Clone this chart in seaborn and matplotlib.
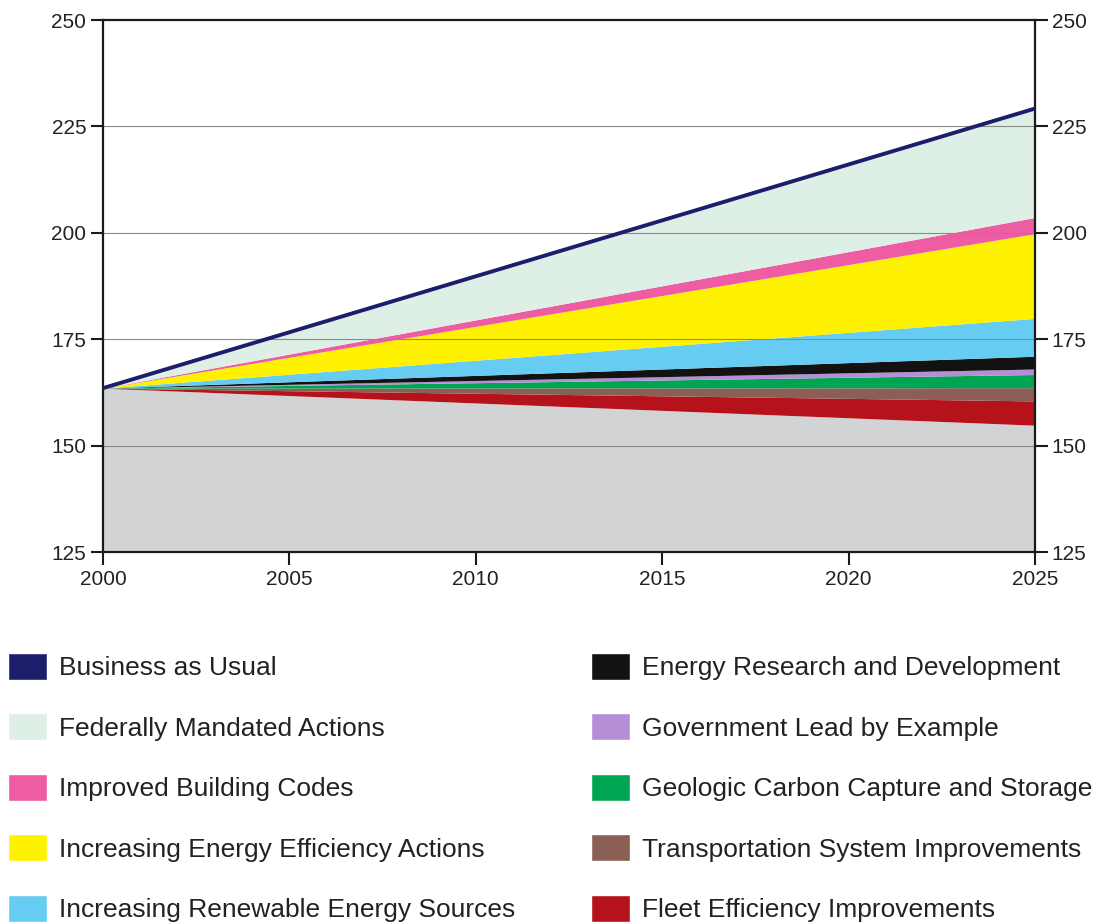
import numpy as np
import pandas as pd
import matplotlib
matplotlib.use("Agg")
import matplotlib.pyplot as plt
from matplotlib.patches import Patch
import seaborn as sns

# ---- data ----
years = [2000, 2025]
business_as_usual = [163.5, 229.2]
base_emissions = [163.5, 154.8]
fleet_efficiency = [0.0, 5.7]
transportation = [0.0, 3.1]
geologic_ccs = [0.0, 3.1]
gov_lead = [0.0, 1.3]
energy_rnd = [0.0, 3.0]
renewables = [0.0, 8.9]
efficiency = [0.0, 19.9]
building_codes = [0.0, 3.8]
federal = [0.0, 25.6]

y_ticks = [125, 150, 175, 200, 225, 250]
x_ticks = [2000, 2005, 2010, 2015, 2020, 2025]

labels = ["Business as Usual", "Federally Mandated Actions", "Improved Building Codes",
          "Increasing Energy Efficiency Actions", "Increasing Renewable Energy Sources",
          "Energy Research and Development", "Government Lead by Example",
          "Geologic Carbon Capture and Storage", "Transportation System Improvements",
          "Fleet Efficiency Improvements"]

c_bau = "#1c1d6b"
c_fed = "#deefe6"
c_pink = "#ee5ca4"
c_yellow = "#fff200"
c_blue = "#66ccf2"
c_black = "#121212"
c_purple = "#b48fd8"
c_green = "#00a551"
c_brown = "#8b5e56"
c_red = "#b5121b"
c_gray = "#d1d3d4"

sns.set_style("white")
plt.rcParams['font.family'] = ['Liberation Sans', 'DejaVu Sans']

fig = plt.figure(figsize=(10.99, 9.22), dpi=100)
ax = fig.add_axes([103/1099, 1-552/922, (1035-103)/1099, (552-20)/922])

ax.stackplot(years, base_emissions, fleet_efficiency, transportation, geologic_ccs,
             gov_lead, energy_rnd, renewables, efficiency, building_codes, federal,
             colors=[c_gray, c_red, c_brown, c_green, c_purple, c_black, c_blue,
                     c_yellow, c_pink, c_fed], linewidth=0, zorder=1)

for yv in y_ticks[1:-1]:
    ax.axhline(yv, color="#8a8a8a", lw=0.8, zorder=2)

df = pd.DataFrame({"year": years, "value": business_as_usual})
sns.lineplot(data=df, x="year", y="value", ax=ax, color=c_bau, lw=2.8, zorder=4)

ax.set_xlim(2000, 2025)
ax.set_ylim(125, 250)
ax.set_xticks(x_ticks)
ax.set_yticks(y_ticks)
ax.set_xlabel("")
ax.set_ylabel("")
for s in ax.spines.values():
    s.set_color("#1a1a1a")
    s.set_linewidth(1.6)
ax.tick_params(axis="both", direction="out", length=9, width=1.5, color="#1a1a1a",
               labelsize=15, labelcolor="#222222", left=True, bottom=True,
               right=True, labelright=True)
ax.tick_params(axis="y", pad=3)
ax.tick_params(axis="x", pad=4)

handles = [Patch(facecolor=c) for c in
           [c_bau, c_fed, c_pink, c_yellow, c_blue, c_black, c_purple, c_green, c_brown, c_red]]
fig.legend(handles, labels, ncol=2, frameon=False, loc="upper left",
           bbox_to_anchor=(0.0, 1-645/922), fontsize=19, handlelength=1.5,
           handleheight=1.2, handletextpad=0.45, labelspacing=1.25,
           columnspacing=2.85, borderaxespad=0, borderpad=0.3,
           labelcolor="#222222")

fig.savefig("out.png", dpi=100)
